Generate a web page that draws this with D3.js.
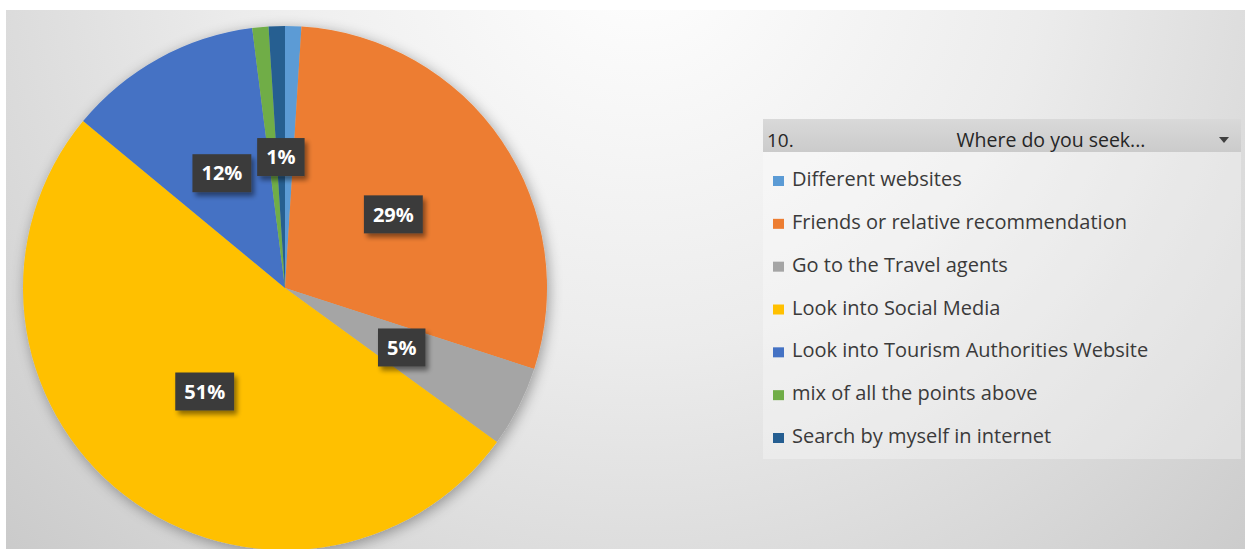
<!DOCTYPE html>
<html>
<head>
<meta charset="utf-8">
<script src="https://cdn.jsdelivr.net/npm/d3@7"></script>
<style>
  html, body { margin: 0; padding: 0; background: #ffffff; }
  svg { display: block; }
</style>
</head>
<body>
<svg id="chart" width="1245" height="549"></svg>
<script>
// Survey question 10: where respondents look for travel information
const categories = [
  "Different websites",
  "Friends or relative recommendation",
  "Go to the Travel agents",
  "Look into Social Media",
  "Look into Tourism Authorities Website",
  "mix of all the points above",
  "Search by myself in internet"
];
const shares = [1, 29, 5, 51, 12, 1, 1];            // percent of respondents
const sliceColors = ["#5B9BD5", "#ED7D31", "#A5A5A5", "#FFC000", "#4472C4", "#70AD47", "#255E91"];
const labelVisible = [false, true, true, true, true, false, true];
const filterTitle = "10.";
const filterField = "Where do you seek...";

const W = 1245, H = 549;
const svg = d3.select("#chart");
const defs = svg.append("defs");

// Plot-area background: light radial wash, white near the top centre
const bg = defs.append("radialGradient").attr("id", "bgGrad")
  .attr("gradientUnits", "userSpaceOnUse")
  .attr("cx", 640).attr("cy", -60).attr("r", 900);
bg.append("stop").attr("offset", "0%").attr("stop-color", "#ffffff");
bg.append("stop").attr("offset", "45%").attr("stop-color", "#ececec");
bg.append("stop").attr("offset", "100%").attr("stop-color", "#c9c9c9");

const shadow = defs.append("filter").attr("id", "pieShadow")
  .attr("x", "-20%").attr("y", "-20%").attr("width", "140%").attr("height", "140%");
shadow.append("feGaussianBlur").attr("in", "SourceAlpha").attr("stdDeviation", 7).attr("result", "b");
shadow.append("feOffset").attr("in", "b").attr("dx", 2).attr("dy", 3).attr("result", "o");
shadow.append("feComponentTransfer").attr("in", "o").attr("result", "s")
  .append("feFuncA").attr("type", "linear").attr("slope", 0.35);
const sm = shadow.append("feMerge");
sm.append("feMergeNode").attr("in", "s");
sm.append("feMergeNode").attr("in", "SourceGraphic");

const boxShadow = defs.append("filter").attr("id", "boxShadow")
  .attr("x", "-30%").attr("y", "-30%").attr("width", "170%").attr("height", "170%");
boxShadow.append("feGaussianBlur").attr("in", "SourceAlpha").attr("stdDeviation", 2.5).attr("result", "b");
boxShadow.append("feOffset").attr("in", "b").attr("dx", 3).attr("dy", 4).attr("result", "o");
boxShadow.append("feComponentTransfer").attr("in", "o").attr("result", "s")
  .append("feFuncA").attr("type", "linear").attr("slope", 0.45);
const bm = boxShadow.append("feMerge");
bm.append("feMergeNode").attr("in", "s");
bm.append("feMergeNode").attr("in", "SourceGraphic");

svg.append("rect").attr("x", 6).attr("y", 10).attr("width", W - 6).attr("height", H - 10)
  .attr("fill", "url(#bgGrad)");

// ---- Pie ----
const cx = 285, cy = 288, radius = 262;
const data = categories.map((c, i) => ({ name: c, value: shares[i], color: sliceColors[i], show: labelVisible[i] }));

const pie = d3.pie().value(d => d.value).sort(null).startAngle(0).endAngle(2 * Math.PI);
const arcs = pie(data);
const arc = d3.arc().innerRadius(0).outerRadius(radius);

const gPie = svg.append("g").attr("transform", `translate(${cx},${cy})`);
gPie.append("g").attr("filter", "url(#pieShadow)")
  .selectAll("path").data(arcs).join("path")
  .attr("d", arc)
  .attr("fill", d => d.data.color);

// Data labels: dark boxes with white bold percentages at the slice centroids
const lbl = gPie.append("g").selectAll("g").data(arcs.filter(d => d.data.show)).join("g")
  .attr("transform", d => `translate(${arc.centroid(d)})`);
lbl.append("text")
  .attr("text-anchor", "middle").attr("dy", "0.36em")
  .attr("font-family", "'Open Sans', sans-serif").attr("font-weight", 700)
  .attr("font-size", 20).attr("fill", "#ffffff")
  .text(d => d3.format(".0%")(d.data.value / 100));
lbl.each(function () {
  const g = d3.select(this);
  const w = g.select("text").node().getComputedTextLength();
  g.insert("rect", "text")
    .attr("x", -w / 2 - 9).attr("y", -19).attr("width", w + 18).attr("height", 38)
    .attr("fill", "#3b3b3b").attr("filter", "url(#boxShadow)");
});

// ---- Legend / filter panel ----
const lx = 763, ly = 119, lw = 478, lh = 340;
const gLeg = svg.append("g");
gLeg.append("rect").attr("x", lx).attr("y", ly).attr("width", lw).attr("height", lh)
  .attr("fill", "#ffffff").attr("fill-opacity", 0.3);
const hdr = defs.append("linearGradient").attr("id", "hdrGrad").attr("x1", 0).attr("y1", 0).attr("x2", 0).attr("y2", 1);
hdr.append("stop").attr("offset", "0%").attr("stop-color", "#d9d9d9");
hdr.append("stop").attr("offset", "100%").attr("stop-color", "#cbcbcb");
gLeg.append("rect").attr("x", lx).attr("y", ly).attr("width", lw).attr("height", 33)
  .attr("fill", "url(#hdrGrad)");
gLeg.append("text").attr("x", 767).attr("y", 147)
  .attr("font-family", "'Open Sans', sans-serif").attr("font-size", 19).attr("fill", "#262626")
  .text(filterTitle);
gLeg.append("text").attr("x", 1051).attr("y", 147).attr("text-anchor", "middle")
  .attr("font-family", "'Open Sans', sans-serif").attr("font-size", 19.5).attr("fill", "#262626")
  .text(filterField);
gLeg.append("path").attr("d", "M1219,137 L1229,137 L1224,143 Z").attr("fill", "#404040");

const legY = d3.scalePoint().domain(categories).range([179, 436]);
const items = gLeg.selectAll("g.item").data(data).join("g").attr("class", "item")
  .attr("transform", d => `translate(773,${legY(d.name)})`);
items.append("rect").attr("x", 0).attr("y", -3).attr("width", 11).attr("height", 10)
  .attr("fill", d => d.color);
items.append("text").attr("x", 19).attr("y", 0).attr("dy", "0.35em")
  .attr("font-family", "'Open Sans', sans-serif").attr("font-size", 20).attr("fill", "#3a3a3a")
  .text(d => d.name);
</script>
</body>
</html>
